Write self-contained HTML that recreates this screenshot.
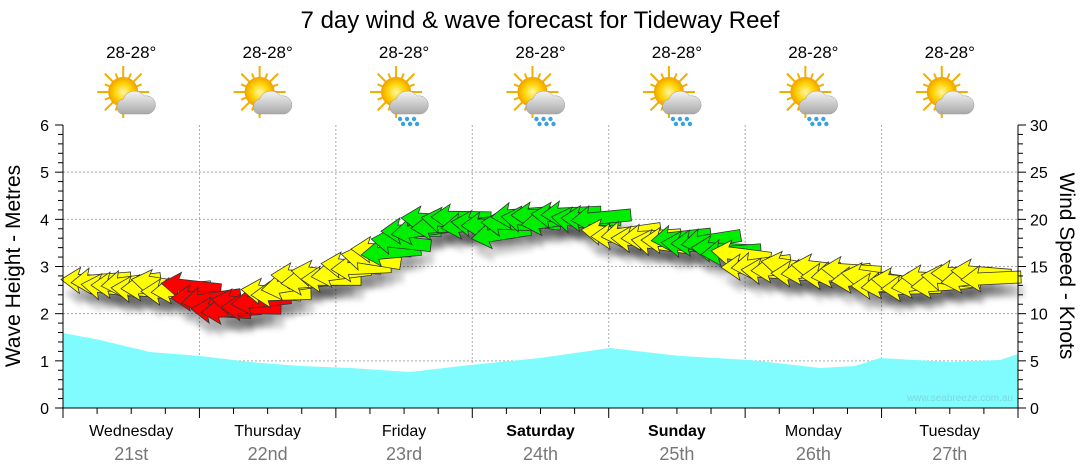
<!DOCTYPE html>
<html><head><meta charset="utf-8"><style>
body{margin:0;background:#fff;}
svg{display:block;font-family:"Liberation Sans",sans-serif;}
</style></head><body>
<svg id="s" width="1080" height="475" viewBox="0 0 1080 475" xmlns="http://www.w3.org/2000/svg">
<defs>
<radialGradient id="sun" cx="0.5" cy="0.5" r="0.5"><stop offset="0" stop-color="#fff7a0"/><stop offset="0.6" stop-color="#ffd000"/><stop offset="1" stop-color="#f0a000"/></radialGradient>
<linearGradient id="cl" x1="0" y1="0" x2="0" y2="1"><stop offset="0" stop-color="#f4f4f4"/><stop offset="1" stop-color="#a8a8a8"/></linearGradient>
<filter id="sh" x="-20%" y="-50%" width="140%" height="200%"><feGaussianBlur stdDeviation="3"/></filter>
</defs>
<text x="540" y="28" font-size="24" text-anchor="middle">7 day wind &amp; wave forecast for Tideway Reef</text>
<g id="g"></g>
</svg>
<script>
const g=document.getElementById('g');let h='';
const L=63,R=1018,T=125,B=408,DW=(R-L)/7;
for(let i=1;i<6;i++){const y=B-i*(B-T)/6;h+=`<line x1="${L}" y1="${y}" x2="${R}" y2="${y}" stroke="#aaa" stroke-dasharray="2,2"/>`;}
for(let d=1;d<7;d++){const x=L+d*DW;h+=`<line x1="${x}" y1="${T}" x2="${x}" y2="${B}" stroke="#aaa" stroke-dasharray="2,2"/>`;}
const wv=[[63,333],[100,340],[150,352],[200,356],[250,362],[300,366],[350,368],[410,372],[470,365],[540,358],[610,348],[680,356],[750,360],[820,368],[855,366],[880,358],[950,362],[1000,360],[1018,354]];
let p=`M${L},${B}`;wv.forEach(a=>p+=` L${a[0]},${a[1]}`);p+=` L${R},${B} Z`;
h+=`<path d="${p}" fill="#80fcff"/>`;
h+=`<text x="1013" y="401" font-size="10" fill="#7dd8dd" text-anchor="end">www.seabreeze.com.au</text>`;
const wd=[[63,268],[100,282],[150,287],[195,292],[230,310],[265,300],[300,282],[350,270],[400,245],[430,222],[470,220],[500,232],[520,220],[560,215],[600,220],[620,237],[680,240],[720,245],[750,265],[800,270],[850,275],[900,285],[940,282],[1000,272],[1020,265]];
function yAt(x){for(let i=0;i<wd.length-1;i++){if(x>=wd[i][0]&&x<=wd[i+1][0]){const t=(x-wd[i][0])/(wd[i+1][0]-wd[i][0]);return wd[i][1]+t*(wd[i+1][1]-wd[i][1]);}}return 265;}
function col(x){if(x>=192&&x<268)return'#ff0000';if((x>=392&&x<605)||(x>=680&&x<735))return'#00ee00';return'#ffff00';}
let sh='',ar='';let k=0;
const path='M-31,0 L-12,-13 L-14,-6 L29,-6 L29,6 L-14,6 L-12,13 Z';
for(let x=92;x<=995;x+=10){k++;const y=yAt(x)+((k*7)%11-5);const a=((k*13)%21-10)*0.9;
sh+=`<path d="${path}" transform="translate(${x+3},${y+14}) rotate(${a})" fill="#000" opacity="0.18"/>`;
ar+=`<path d="${path}" transform="translate(${x},${y}) rotate(${a})" fill="${col(x)}" stroke="#333" stroke-width="0.8"/>`;}
h+=`<g filter="url(#sh)">${sh}</g>`+ar;
h+=`<line x1="${L}" y1="${T}" x2="${L}" y2="${B}" stroke="#000"/><line x1="${R}" y1="${T}" x2="${R}" y2="${B}" stroke="#000"/><line x1="${L}" y1="${B}" x2="${R}" y2="${B}" stroke="#000"/>`;
for(let i=0;i<=30;i++){const y=B-i*(B-T)/30;const big=i%5==0;h+=`<line x1="${L}" y1="${y}" x2="${L-(big?8:5)}" y2="${y}" stroke="#000"/><line x1="${R}" y1="${y}" x2="${R+(big?8:5)}" y2="${y}" stroke="#000"/>`;
if(big){h+=`<text x="49" y="${y+6}" font-size="16" text-anchor="end">${i/5}</text><text x="1030" y="${y+6}" font-size="16">${i}</text>`;}}
for(let i=0;i<=28;i++){const x=L+i*DW/4;const big=i%4==0;h+=`<line x1="${x}" y1="${B}" x2="${x}" y2="${B+(big?10:6)}" stroke="#000"/>`;}
h+=`<text transform="translate(20,266) rotate(-90)" font-size="21" text-anchor="middle">Wave Height - Metres</text>`;
h+=`<text transform="translate(1060,266) rotate(90)" font-size="21" text-anchor="middle">Wind Speed - Knots</text>`;
const days=['Wednesday','Thursday','Friday','Saturday','Sunday','Monday','Tuesday'],dt=['21st','22nd','23rd','24th','25th','26th','27th'];
const rain=[0,0,1,1,1,1,0];
for(let d=0;d<7;d++){const cx=L+(d+0.5)*DW;const b=(d==3||d==4)?' font-weight="bold"':'';
h+=`<text x="${cx}" y="436" font-size="16" text-anchor="middle"${b}>${days[d]}</text><text x="${cx}" y="460" font-size="18" fill="#777" text-anchor="middle">${dt[d]}</text>`;
h+=`<text x="${cx}" y="58" font-size="17" text-anchor="middle">28-28°</text>`;
const ix=cx-8,iy=92;let rays='';for(let r=0;r<16;r++){const an=r*Math.PI/8;const l=r%2?20:26;rays+=`<line x1="${ix}" y1="${iy}" x2="${ix+l*Math.cos(an)}" y2="${iy+l*Math.sin(an)}" stroke="#f0b000" stroke-width="2"/>`;}
h+=rays+`<circle cx="${ix}" cy="${iy}" r="15" fill="url(#sun)"/>`;
h+=`<path d="M${ix-2},${iy+22} a8,8 0 0 1 2,-15 a12,12 0 0 1 21,-3 a9,9 0 0 1 4,18 Z" fill="url(#cl)" stroke="#999" stroke-width="0.5"/>`;
if(rain[d]){for(let r=0;r<3;r++){h+=`<circle cx="${ix+4+r*7}" cy="${iy+27}" r="2.2" fill="#3aa0e0"/><circle cx="${ix+7+r*7}" cy="${iy+32}" r="2.2" fill="#3aa0e0"/>`;}}
}
g.innerHTML=h;
</script>
</body></html>
